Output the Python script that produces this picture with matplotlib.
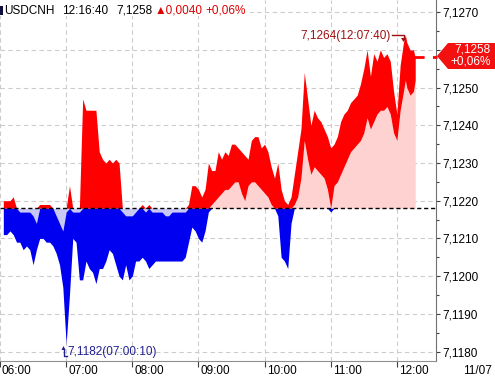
import matplotlib
matplotlib.use("Agg")
import matplotlib.pyplot as plt
import numpy as np
from matplotlib.ticker import MultipleLocator, FuncFormatter
from matplotlib.patches import Polygon, Rectangle
from matplotlib.lines import Line2D

plt.rcParams['font.family'] = ['Liberation Sans', 'DejaVu Sans']

# time of each sample in minutes after 06:00
minutes = list(range(3, 367, 3)) + [367.67, 369, 372, 375, 376.67]

high = [7.1220, 7.1220, 7.1220, 7.1221, 7.1218, 7.1217, 7.1217, 7.1217, 7.1217, 7.1216,
        7.1214, 7.1219, 7.1219, 7.1219, 7.1219, 7.1218, 7.1216, 7.1214, 7.1212, 7.1217,
        7.1224, 7.1217, 7.1217, 7.1217, 7.1247, 7.1244, 7.1244, 7.1244, 7.1244, 7.1233,
        7.1231, 7.1230, 7.1231, 7.1230, 7.1231, 7.1230, 7.1217, 7.1216, 7.1216, 7.1216,
        7.1217, 7.1218, 7.1219, 7.1217, 7.1219, 7.1217, 7.1217, 7.1217, 7.1217, 7.1216,
        7.1216, 7.1217, 7.1217, 7.1217, 7.1217, 7.1217, 7.1219, 7.1224, 7.1224, 7.1223,
        7.1221, 7.1223, 7.1230, 7.1228, 7.1228, 7.1233, 7.1231, 7.1233, 7.1232, 7.1235,
        7.1235, 7.1234, 7.1233, 7.1232, 7.1231, 7.1236, 7.1237, 7.1237, 7.1234, 7.1235,
        7.1233, 7.1229, 7.1226, 7.1230, 7.1223, 7.1220, 7.1219, 7.1221, 7.1227, 7.1233,
        7.1239, 7.1254, 7.1247, 7.1240, 7.1244, 7.1242, 7.1241, 7.1239, 7.1237, 7.1234,
        7.1235, 7.1237, 7.1241, 7.1243, 7.1244, 7.1246, 7.1247, 7.1248, 7.1251, 7.1255,
        7.1260, 7.1253, 7.1259, 7.1257, 7.1260, 7.1258, 7.1259, 7.1257, 7.1249, 7.1243,
        7.1256, 7.1262,
        7.1264, 7.1262, 7.1260, 7.1260, 7.1258]

low = [7.1211, 7.1211, 7.1212, 7.1211, 7.1209, 7.1209, 7.1207, 7.1208, 7.1207, 7.1203,
       7.1207, 7.1210, 7.1210, 7.1209, 7.1209, 7.1208, 7.1206, 7.1203, 7.1197, 7.1182,
       7.1195, 7.1210, 7.1209, 7.1199, 7.1199, 7.1204, 7.1202, 7.1201, 7.1198, 7.1202,
       7.1202, 7.1204, 7.1207, 7.1206, 7.1203, 7.1200, 7.1199, 7.1203, 7.1199, 7.1200,
       7.1204, 7.1204, 7.1205, 7.1204, 7.1202, 7.1203, 7.1204, 7.1204, 7.1204, 7.1204,
       7.1204, 7.1204, 7.1204, 7.1204, 7.1204, 7.1205, 7.1209, 7.1213, 7.1212, 7.1210,
       7.1209, 7.1212, 7.1217, 7.1219, 7.1220, 7.1221, 7.1222, 7.1223, 7.1223, 7.1224,
       7.1225, 7.1225, 7.1222, 7.1220, 7.1224, 7.1225, 7.1225, 7.1224, 7.1223, 7.1222,
       7.1221, 7.1219, 7.1218, 7.1216, 7.1205, 7.1204, 7.1202, 7.1214, 7.1219, 7.1221,
       7.1226, 7.1236, 7.1231, 7.1227, 7.1229, 7.1228, 7.1227, 7.1226, 7.1223, 7.1217,
       7.1224, 7.1225, 7.1227, 7.1229, 7.1231, 7.1233, 7.1234, 7.1235, 7.1236, 7.1238,
       7.1242, 7.1239, 7.1241, 7.1243, 7.1244, 7.1244, 7.1245, 7.1243, 7.1238, 7.1236,
       7.1244, 7.1249,
       7.1252, 7.1250, 7.1248, 7.1249, 7.1252]

hour_labels = ["06:00", "07:00", "08:00", "09:00", "10:00", "11:00", "12:00"]
prev_close = 7.1218
last_price = 7.1258
W, H = 495, 378
FS = 8.5


def fx(x):
    return x / W


def fy(y):
    return 1 - y / H


def price_fmt(v, p):
    # the 7,1260 label sits under the last-price marker
    if abs(v - 7.1260) < 1e-6:
        return ""
    return f"{v:.4f}".replace('.', ',')


t = np.array(minutes)
hi = np.array(high)
lo = np.array(low)

fig = plt.figure(figsize=(4.95, 3.78), dpi=100)
ax = fig.add_axes([0, 17 / H, 436 / W, 361 / H])

# light fills between price and previous close
ax.fill_between(t, prev_close, np.maximum(lo, prev_close), color='#ffd2d2', lw=0)
ax.fill_between(t, np.minimum(hi, prev_close), prev_close, color='#c8c8f4', lw=0)
# high-low range, red above / blue below the previous close
ax.fill_between(t, np.maximum(lo, prev_close), np.maximum(hi, prev_close), color='#ff0000', lw=0)
ax.fill_between(t, np.minimum(lo, prev_close), np.minimum(hi, prev_close), color='#0000f0', lw=0)

ax.axhline(prev_close, color='black', lw=1, linestyle=(0, (3, 2)), zorder=3)

ax.set_xlim(2.7, 395.5)
ax.set_ylim(7.117748, 7.127324)

ax.yaxis.set_major_locator(MultipleLocator(0.001))
ax.yaxis.set_minor_locator(MultipleLocator(0.0005))
ax.yaxis.set_major_formatter(FuncFormatter(price_fmt))
ax.yaxis.tick_right()
ax.tick_params(axis='y', which='major', length=3, width=0.8, pad=1.5, labelsize=FS,
               color='#404040', labelcolor='black')
ax.tick_params(axis='y', which='minor', length=2, width=0.8, color='#404040')

ax.set_xticks([(h - 6) * 60 for h in range(6, 13)])
ax.set_xticklabels([])
ax.tick_params(axis='x', which='major', length=4, width=0.8, color='#404040')
for i, lab in enumerate(hour_labels):
    ax.annotate(lab, xy=(i * 60, 0), xycoords=('data', 'axes fraction'),
                xytext=(2, -4), textcoords='offset pixels', ha='left', va='top',
                fontsize=FS, annotation_clip=False)

ax.grid(which='major', color='#cccccc', linestyle=(0, (4, 3)), lw=0.8)
ax.set_axisbelow(True)

for s in ['top', 'left']:
    ax.spines[s].set_visible(False)
ax.spines['right'].set_color('#707070')
ax.spines['bottom'].set_color('#909090')

fig.text(fx(492), fy(371), "11/07", ha='right', va='center', fontsize=FS)

# header
fig.patches.append(Rectangle((0, fy(16)), fx(250), 16 / H, transform=fig.transFigure,
                             facecolor='white', edgecolor='none', zorder=2))
fig.patches.append(Rectangle((0, fy(15)), fx(3), 9 / H, transform=fig.transFigure,
                             facecolor='#101040', edgecolor='none', zorder=3))
fig.text(fx(4), fy(10.5), "USDCNH", ha='left', va='center', fontsize=FS, zorder=4)
fig.text(fx(62), fy(10.5), "12:16:40", ha='left', va='center', fontsize=FS, zorder=4)
fig.text(fx(116), fy(10.5), "7,1258", ha='left', va='center', fontsize=FS, zorder=4)
fig.text(fx(155), fy(10.5), "▲0,0040", ha='left', va='center', fontsize=FS,
         color='#e00000', zorder=4)
fig.text(fx(205), fy(10.5), "+0,06%", ha='left', va='center', fontsize=FS,
         color='#e00000', zorder=4)

# last price marker
fig.add_artist(Line2D([fx(413), fx(437)], [fy(57), fy(57)], color='#ff0000', lw=2,
                      linestyle=(0, (4, 3))))
fig.patches.append(Polygon([(fx(437), fy(56)), (fx(448), fy(43)), (fx(495), fy(43)),
                            (fx(495), fy(69)), (fx(448), fy(69))], closed=True,
                           transform=fig.transFigure, facecolor='#f21010',
                           edgecolor='none', zorder=3))
fig.text(fx(490), fy(49.5), "7,1258", ha='right', va='center', fontsize=FS,
         color='white', zorder=4)
fig.text(fx(491), fy(62), "+0,06%", ha='right', va='center', fontsize=FS,
         color='white', zorder=4)

# max annotation
fig.add_artist(Line2D([fx(392), fx(403.5), fx(403.5)], [fy(34.5), fy(34.5), fy(39)],
                      color='#a01010', lw=1))
fig.patches.append(Polygon([(fx(401), fy(38)), (fx(406), fy(38)), (fx(403.5), fy(42))],
                           closed=True, transform=fig.transFigure,
                           facecolor='#a01010', edgecolor='none', zorder=3))
fig.text(fx(391), fy(36), "7,1264(12:07:40)", ha='right', va='center', fontsize=FS,
         color='#a01010', zorder=4)

# min annotation
fig.add_artist(Line2D([fx(63.5), fx(63.5), fx(67)], [fy(349), fy(356), fy(356)],
                      color='#202090', lw=1))
fig.patches.append(Polygon([(fx(61.5), fy(350)), (fx(65.5), fy(350)), (fx(63.5), fy(346))],
                           closed=True, transform=fig.transFigure,
                           facecolor='#202090', edgecolor='none', zorder=3))
fig.text(fx(67), fy(352.5), "7,1182(07:00:10)", ha='left', va='center', fontsize=FS,
         color='#202090', zorder=4)

fig.savefig("out.png", dpi=100)
